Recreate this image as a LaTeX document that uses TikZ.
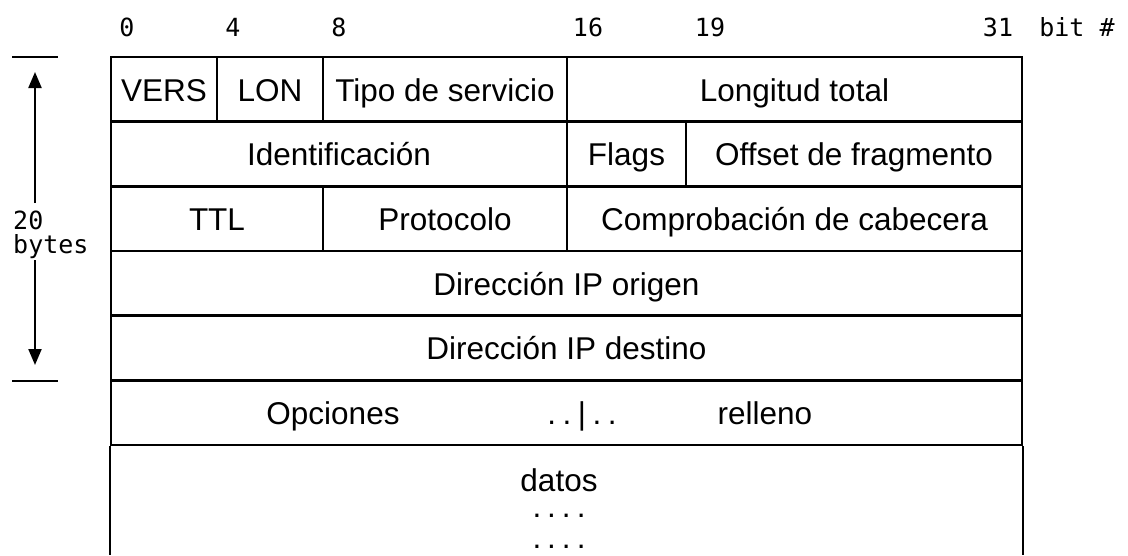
\documentclass[tikz,border=0pt]{standalone}
\usepackage{fontspec}
\setmainfont{Liberation Sans}
\newfontfamily\bitfont{DejaVu Sans Mono}
\usetikzlibrary{arrows.meta}

\begin{document}
\begin{tikzpicture}[x=1pt, y=-1pt, line width=2.4pt,
  field/.style={draw, shape=rectangle, minimum height=65pt, inner sep=0pt,
    font=\fontsize{31.5}{36}\selectfont, text height=23pt, text depth=0pt},
  fieldtext/.style={inner sep=0pt, font=\fontsize{31.5}{36}\selectfont,
    text height=23pt, text depth=0pt},
  moredots/.style={inner sep=0pt, anchor=base, font=\fontsize{31.5}{36}\selectfont},
  bitnum/.style={inner sep=0pt, anchor=base, font=\bitfont\fontsize{25}{24}\selectfont},
  sizearrow/.style={-{Triangle[width=13pt, length=16pt]}, line width=2.2pt}]
\useasboundingbox (0,0) rectangle (1128,555);

\node [bitnum] (bit0) at (127,36) {0};
\node [bitnum] (bit4) at (233,36) {4};
\node [bitnum] (bit8) at (339,36) {8};
\node [bitnum] (bit16) at (588,36) {16};
\node [bitnum] (bit19) at (710,36) {19};
\node [bitnum] (bit31) at (998,36) {31};
\node [bitnum] (bitname) at (1077,36) {bit \#};

\node [field, minimum width=106pt] (vers) at (164, 89.5) {VERS};
\node [field, minimum width=106pt] (lon) at (270, 89.5) {LON};
\node [field, minimum width=244pt] (tos) at (445, 89.5) {Tipo de servicio};
\node [field, minimum width=455pt] (totlen) at (794.5, 89.5) {Longitud total};
\node [field, minimum width=456pt] (ident) at (339, 154) {Identificación};
\node [field, minimum width=119pt] (flags) at (626.5, 154) {Flags};
\node [field, minimum width=336pt] (offset) at (854, 154) {Offset de fragmento};
\node [field, minimum width=212pt] (ttl) at (217, 218.5) {TTL};
\node [field, minimum width=244pt] (proto) at (445, 218.5) {Protocolo};
\node [field, minimum width=455pt] (checksum) at (794.5, 218.5) {Comprobación de cabecera};
\node [field, minimum width=911pt] (srcip) at (566.5, 283.5) {Dirección IP origen};
\node [field, minimum width=911pt] (dstip) at (566.5, 348) {Dirección IP destino};
\node [field, minimum width=911pt] (opts) at (566.5, 412.5) {};
\node [fieldtext] (optname) at (333, 412.5) {Opciones};
\node [fieldtext] (optsep) at (582, 412.5) {.\kern6.5pt.\kern6.5pt|\kern6.5pt.\kern6.5pt.};
\node [fieldtext] (padding) at (765, 412.5) {relleno};
\node [moredots] (data) at (559, 491) {datos};
\node [moredots] (moreA) at (559, 517.5) {.\kern6pt.\kern6pt.\kern6pt.};
\node [moredots] (moreB) at (559, 548.5) {.\kern6pt.\kern6pt.\kern6pt.};
\coordinate (bottom) at (0, 555);
\draw (opts.south west) -- (opts.south west |- bottom);
\draw (opts.south east) -- (opts.south east |- bottom);

\draw (12, 57) -- (58, 57);
\draw (12, 381) -- (58, 381);
\node [inner sep=0pt, anchor=north west, align=left,
  font=\bitfont\fontsize{25}{24}\selectfont] (hdrlen) at (12, 210) {20\\bytes};
\coordinate (uptip) at (35, 72);
\coordinate (downtip) at (35, 365);
\draw [sizearrow, shorten <=7pt] (uptip |- hdrlen.north) -- (uptip);
\draw [sizearrow] (uptip |- hdrlen.south) -- (downtip);
\end{tikzpicture}
\end{document}
